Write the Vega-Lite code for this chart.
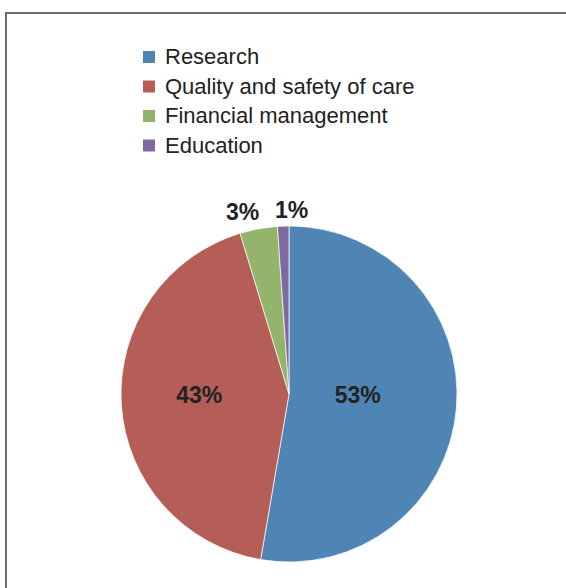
{
  "$schema": "https://vega.github.io/schema/vega-lite/v6.json",
  "autosize": "none",
  "padding": {"left": 6, "top": 13, "right": -8, "bottom": -8},
  "width": 568,
  "height": 583,
  "background": "white",
  "view": {"stroke": "#6b6b6b", "strokeWidth": 2},
  "config": {
    "view": {"stroke": "#6b6b6b", "strokeWidth": 2},
    "font": "Liberation Sans"
  },
  "data": {
    "values": [
      {"category": "Research", "idx": 1, "value": 52.7, "label": "53%"},
      {"category": "Quality and safety of care", "idx": 2, "value": 42.6, "label": "43%"},
      {"category": "Financial management", "idx": 3, "value": 3.6, "label": "3%"},
      {"category": "Education", "idx": 4, "value": 1.1, "label": "1%"}
    ]
  },
  "encoding": {
    "theta": {"field": "value", "type": "quantitative", "stack": true},
    "order": {"field": "idx", "type": "quantitative"}
  },
  "layer": [
    {
      "mark": {"type": "arc", "outerRadius": 168, "stroke": "white", "strokeWidth": 0.7, "xOffset": -1, "yOffset": 89.5},
      "encoding": {
        "color": {
          "field": "category",
          "type": "nominal",
          "sort": ["Research", "Quality and safety of care", "Financial management", "Education"],
          "scale": {
            "domain": ["Research", "Quality and safety of care", "Financial management", "Education"],
            "range": ["#4F85B5", "#B55D57", "#94B46B", "#7F6A9F"]
          },
          "legend": {
            "title": null,
            "orient": "none",
            "legendX": 132,
            "legendY": 33,
            "padding": 0,
            "symbolType": "square",
            "symbolSize": 144,
            "symbolStrokeWidth": 0,
            "labelFont": "Liberation Sans",
            "labelFontSize": 22,
            "labelColor": "#222222",
            "labelOffset": 5,
            "rowPadding": 7.5,
            "labelLimit": 400
          }
        }
      }
    },
    {
      "mark": {"type": "text", "radius": 69, "fontSize": 23, "fontWeight": "bold", "fill": "#222222", "baseline": "middle", "dy": -4, "xOffset": -1, "yOffset": 89.5},
      "encoding": {"text": {"condition": {"test": "datum.idx == 1", "field": "label"}, "value": ""}}
    },
    {
      "mark": {"type": "text", "radius": 90, "fontSize": 23, "fontWeight": "bold", "fill": "#222222", "baseline": "middle", "dy": -4, "xOffset": -1, "yOffset": 89.5},
      "encoding": {"text": {"condition": {"test": "datum.idx == 2", "field": "label"}, "value": ""}}
    },
    {
      "mark": {"type": "text", "radius": 184, "fontSize": 23, "fontWeight": "bold", "fill": "#222222", "baseline": "middle", "dx": -13, "xOffset": -1, "yOffset": 89.5},
      "encoding": {"text": {"condition": {"test": "datum.idx == 3", "field": "label"}, "value": ""}}
    },
    {
      "mark": {"type": "text", "radius": 183, "fontSize": 23, "fontWeight": "bold", "fill": "#222222", "baseline": "middle", "dx": 9, "xOffset": -1, "yOffset": 89.5},
      "encoding": {"text": {"condition": {"test": "datum.idx == 4", "field": "label"}, "value": ""}}
    }
  ]
}
